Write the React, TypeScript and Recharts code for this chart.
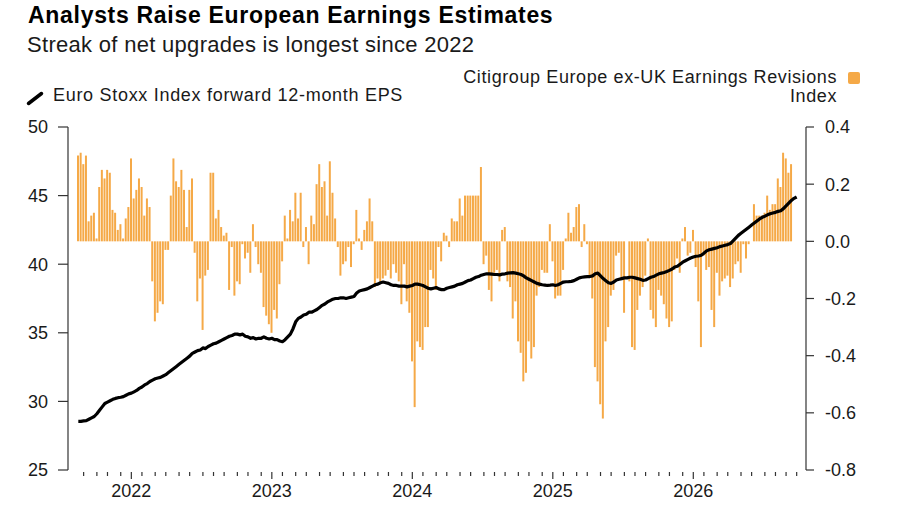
import { ComposedChart, Bar, Line, XAxis, YAxis } from "recharts";

// Citigroup Europe ex-UK Earnings Revisions Index, weekly (right axis)
const revisions: (number | null)[] = [
  0.30, 0.31, 0.27, 0.30, 0.07, 0.09, 0.10, 0.01, 0.19, 0.25,
  0.22, 0.25, 0.24, 0.11, 0.10, 0.04, 0.06, 0.01, 0.08, 0.12,
  0.29, 0.15, 0.18, 0.22, 0.19, 0.09, 0.15, 0.12, -0.14, -0.28,
  -0.25, -0.21, -0.22, -0.03, -0.03, 0.16, 0.29, 0.21, 0.19, 0.25,
  0.18, 0.05, 0.18, 0.22, -0.04,
  -0.21, -0.13, -0.31, -0.12, -0.10,
  0.24, 0.24, 0.08, 0.11, 0.05, 0.02, 0.03, -0.17, -0.02, -0.19,
  -0.14, -0.15, -0.01, -0.06, -0.04, -0.11, 0.06, -0.02, -0.08, -0.11,
  -0.23, -0.26, -0.29, -0.32, -0.24, -0.27, -0.15, -0.07, 0.09, 0.01,
  0.11, 0.07, 0.17, 0.08, 0.17, -0.02, 0.05, -0.08, 0.09, 0.06,
  0.20, 0.27, 0.19, 0.21, 0.09, 0.28, 0.17, 0.08, -0.02, -0.12,
  -0.08, -0.07, -0.02, -0.09, -0.01, 0.11, 0.01, -0.03, 0.04, 0.07,
  0.15, 0.07, -0.16, -0.13, -0.14, -0.13, -0.12, -0.10, -0.13, -0.08,
  -0.11, -0.14, -0.22, -0.08, -0.21, -0.25, -0.42, -0.58, -0.35, -0.37,
  -0.38, -0.30, -0.30, -0.10, -0.13, -0.17,
  -0.02, -0.07, 0.03, 0.02, -0.02, 0.08, 0.07, 0.07, 0.15, 0.09,
  0.16, 0.16, 0.16, 0.16, 0.16, 0.16, 0.26, -0.08, -0.05, -0.17,
  -0.21, -0.11, -0.10, -0.14, 0.04, 0.05, -0.14, -0.16, -0.27, -0.21,
  -0.35, -0.39, -0.49, -0.46, -0.35, -0.41, -0.37, -0.19, -0.16, -0.10,
  -0.11, -0.11, 0.06, -0.07,
  -0.20, -0.19, -0.19, -0.10, 0.01, 0.10, 0.03, 0.05, 0.12, 0.13,
  -0.02, 0.06, -0.01, -0.12, -0.20, -0.44, -0.49, -0.57, -0.62, -0.35,
  -0.30, -0.19, -0.17, -0.05, -0.04, -0.13, -0.25, 0.00, -0.14, -0.37,
  -0.38, -0.24, -0.19, -0.16, -0.12, 0.01, -0.24, -0.27, -0.30, -0.17,
  -0.19, -0.22, -0.27, -0.30, -0.28, -0.10, -0.06,
  -0.11, 0.01, 0.05, -0.05, -0.04, 0.04, -0.09, -0.21, -0.37, -0.05,
  -0.10, -0.09, -0.24, -0.30, -0.11, -0.19, -0.14, -0.13, -0.12, -0.16,
  -0.13, -0.08, -0.07, -0.11, -0.01, -0.06, -0.01, 0.00, 0.13, 0.09,
  0.09, 0.09, 0.10, 0.16, 0.11, 0.13, 0.13, 0.22, 0.19, 0.31,
  0.29, 0.24, 0.27,
  null, null,
];

// Euro Stoxx Index forward 12-month EPS, weekly (left axis)
const eps = [
  28.55, 28.55, 28.58, 28.6, 28.7, 28.8, 28.9, 29.1, 29.35, 29.6,
  29.85, 29.95, 30.05, 30.15, 30.22, 30.27, 30.3, 30.35, 30.45, 30.55,
  30.6, 30.7, 30.8, 30.95, 31.05, 31.2, 31.3, 31.45, 31.55, 31.65,
  31.7, 31.75, 31.85, 31.95, 32.1, 32.25, 32.4, 32.55, 32.7, 32.85,
  33.0, 33.15, 33.3, 33.5, 33.6, 33.7, 33.75, 33.9, 33.85, 34.0,
  34.1, 34.2, 34.25, 34.35, 34.45, 34.55, 34.65, 34.75, 34.8, 34.9,
  34.9, 34.85, 34.9, 34.75, 34.7, 34.6, 34.65, 34.55, 34.6, 34.6,
  34.7, 34.6, 34.55, 34.6, 34.5, 34.5, 34.4, 34.35, 34.5, 34.7,
  34.9, 35.3, 35.8, 36.05, 36.15, 36.3, 36.35, 36.5, 36.5, 36.6,
  36.7, 36.85, 37.0, 37.1, 37.25, 37.35, 37.45, 37.5, 37.5, 37.55,
  37.55, 37.5, 37.55, 37.6, 37.65, 37.9, 38.05, 38.1, 38.15, 38.2,
  38.3, 38.4, 38.5, 38.55, 38.65, 38.7, 38.65, 38.6, 38.5, 38.45,
  38.45, 38.4, 38.4, 38.4, 38.35, 38.4, 38.45, 38.55, 38.55, 38.5,
  38.45, 38.35, 38.25, 38.2, 38.25, 38.3, 38.2, 38.15, 38.15, 38.25,
  38.3, 38.35, 38.4, 38.5, 38.55, 38.6, 38.7, 38.8, 38.85, 38.95,
  39.05, 39.1, 39.2, 39.25, 39.3, 39.3, 39.28, 39.25, 39.25, 39.22,
  39.28, 39.3, 39.35, 39.37, 39.38, 39.35, 39.3, 39.25, 39.15, 39.0,
  38.9, 38.8, 38.7, 38.6, 38.55, 38.5, 38.48, 38.45, 38.47, 38.5,
  38.45, 38.5, 38.6, 38.7, 38.72, 38.73, 38.75, 38.8, 38.9, 39.0,
  39.05, 39.08, 39.1, 39.1, 39.15, 39.3, 39.35, 39.15, 38.95, 38.8,
  38.65, 38.6, 38.7, 38.85, 38.9, 38.95, 39.0, 39.0, 39.05, 39.05,
  39.0, 38.95, 38.9, 38.82, 38.85, 38.95, 39.05, 39.1, 39.2, 39.3,
  39.35, 39.4, 39.47, 39.55, 39.65, 39.8, 39.85, 40.0, 40.15, 40.25,
  40.35, 40.45, 40.52, 40.58, 40.6, 40.65, 40.8, 40.97, 41.05, 41.1,
  41.15, 41.2, 41.28, 41.33, 41.38, 41.43, 41.5, 41.7, 41.9, 42.1,
  42.25, 42.4, 42.55, 42.7, 42.85, 43.0, 43.15, 43.3, 43.42, 43.5,
  43.6, 43.68, 43.73, 43.78, 43.85, 43.9, 44.05, 44.25, 44.45, 44.65,
  44.8, 44.9,
];

// week index where each year starts, and the monthly minor ticks
const yearTicks = [
  { week: 20, label: "2022" },
  { week: 73, label: "2023" },
  { week: 126, label: "2024" },
  { week: 179, label: "2025" },
  { week: 232, label: "2026" },
];
const monthTicks = [
  2, 7, 11, 16,
  24, 29, 33, 38, 42, 47, 51, 55, 60, 64, 69,
  77, 82, 86, 91, 95, 100, 104, 108, 113, 117, 122,
  130, 135, 139, 144, 148, 153, 157, 161, 166, 170, 175,
  183, 188, 192, 197, 201, 206, 210, 214, 219, 223, 228,
  236, 241, 245, 250, 254, 259, 263, 267, 271,
];

const leftTicks = [25, 30, 35, 40, 45, 50];
const rightTicks = [-0.8, -0.6, -0.4, -0.2, 0, 0.2, 0.4];

const ORANGE = "#f5a947";
const INK = "#1a1a1a";

const data = eps.map((v, i) => ({
  week: i,
  eps: v,
  revisions: revisions[i],
}));

const allTicks = [...monthTicks, ...yearTicks.map((t) => t.week)].sort(
  (a, b) => a - b
);

function WeekTick(props: any) {
  const { x, y, payload } = props;
  const yr = yearTicks.find((t) => t.week === payload.value);
  return (
    <g>
      <line
        x1={x}
        x2={x}
        y1={y + 2}
        y2={y + (yr ? 9 : 6)}
        stroke="#333"
        strokeWidth={1.2}
      />
      {yr && (
        <text
          x={x}
          y={y + 21}
          textAnchor="middle"
          dominantBaseline="central"
          fontSize={18}
          fill={INK}
        >
          {yr.label}
        </text>
      )}
    </g>
  );
}

export default function App() {
  return (
    <div
      style={{
        position: "absolute",
        left: 0,
        top: 0,
        width: 900,
        height: 510,
        background: "#fff",
        fontFamily: '"Liberation Sans", Arial, sans-serif',
        color: INK,
      }}
    >
      <div
        style={{
          position: "absolute",
          left: 28,
          top: 4,
          fontSize: 23,
          lineHeight: "23px",
          fontWeight: 700,
          letterSpacing: 0.7,
          color: "#000",
          whiteSpace: "nowrap",
        }}
      >
        Analysts Raise European Earnings Estimates
      </div>
      <div
        style={{
          position: "absolute",
          left: 27,
          top: 34,
          fontSize: 22,
          lineHeight: "22px",
          letterSpacing: 0.3,
          whiteSpace: "nowrap",
        }}
      >
        Streak of net upgrades is longest since 2022
      </div>

      {/* left legend */}
      <svg
        style={{ position: "absolute", left: 24, top: 88 }}
        width={22}
        height={20}
      >
        <line
          x1={4.5}
          y1={15.5}
          x2={17.5}
          y2={5.5}
          stroke="#000"
          strokeWidth={3.5}
          strokeLinecap="round"
        />
      </svg>
      <div
        style={{
          position: "absolute",
          left: 53,
          top: 87,
          fontSize: 18,
          lineHeight: "16px",
          letterSpacing: 0.7,
          whiteSpace: "nowrap",
        }}
      >
        Euro Stoxx Index forward 12-month EPS
      </div>

      {/* right legend */}
      <div
        style={{
          position: "absolute",
          right: 63,
          top: 69,
          fontSize: 18,
          lineHeight: "16px",
          letterSpacing: 0.6,
          textAlign: "right",
          whiteSpace: "nowrap",
        }}
      >
        Citigroup Europe ex-UK Earnings Revisions
      </div>
      <div
        style={{
          position: "absolute",
          right: 63,
          top: 87.5,
          fontSize: 18,
          lineHeight: "16px",
          letterSpacing: 0.6,
          textAlign: "right",
        }}
      >
        Index
      </div>
      <div
        style={{
          position: "absolute",
          left: 848,
          top: 72,
          width: 12,
          height: 12,
          borderRadius: 2,
          background: ORANGE,
        }}
      />

      <div style={{ position: "absolute", left: 0, top: 0 }}>
        <ComposedChart
          width={900}
          height={510}
          data={data}
          margin={{ top: 127, right: 0, bottom: 0, left: 0 }}
        >
          <XAxis
            dataKey="week"
            type="category"
            ticks={allTicks}
            interval={0}
            tick={<WeekTick />}
            tickLine={false}
            axisLine={false}
            tickSize={0}
            tickMargin={0}
            height={40}
            padding={{ left: 9, right: 8 }}
          />
          <YAxis
            yAxisId="left"
            orientation="left"
            width={68}
            domain={[25, 50]}
            ticks={leftTicks}
            allowDataOverflow
            tickSize={10}
            tickMargin={10}
            axisLine={{ stroke: "#333", strokeWidth: 1.2 }}
            tickLine={{ stroke: "#333", strokeWidth: 1.2 }}
            tick={{ fill: INK, fontSize: 18 }}
          />
          <YAxis
            yAxisId="right"
            orientation="right"
            width={94}
            domain={[-0.8, 0.4]}
            ticks={rightTicks}
            allowDataOverflow
            tickFormatter={(v: number) => v.toFixed(1)}
            tickSize={8}
            tickMargin={11}
            axisLine={{ stroke: "#333", strokeWidth: 1.2 }}
            tickLine={{ stroke: "#333", strokeWidth: 1.2 }}
            tick={{ fill: INK, fontSize: 18 }}
          />
          <Bar
            yAxisId="right"
            dataKey="revisions"
            fill={ORANGE}
            barSize={2}
            isAnimationActive={false}
          />
          <Line
            yAxisId="left"
            dataKey="eps"
            type="linear"
            stroke="#000"
            strokeWidth={3.2}
            dot={false}
            strokeLinejoin="round"
            isAnimationActive={false}
          />
        </ComposedChart>
      </div>
    </div>
  );
}
